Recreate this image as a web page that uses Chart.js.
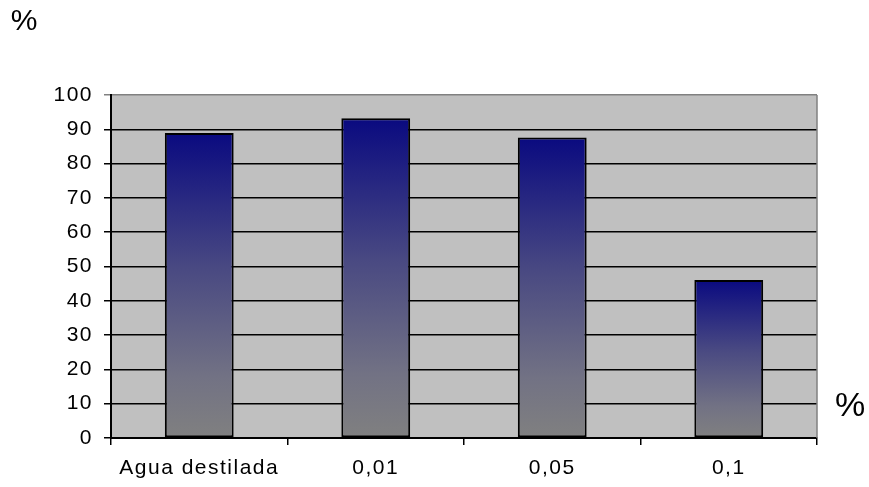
<!DOCTYPE html>
<html>
<head>
<meta charset="utf-8">
<script src="https://cdn.jsdelivr.net/npm/chart.js@4.4.0/dist/chart.umd.min.js"></script>
<style>
  html, body { margin: 0; padding: 0; background: #fff; }
  #wrap { width: 869px; height: 487px; }
</style>
</head>
<body>
<div id="wrap"><canvas id="barChart" width="869" height="487"></canvas></div>
<script>
const categories = ['Agua destilada', '0,01', '0,05', '0,1'];
const values = [88.9, 93.2, 87.6, 46.1];
const yTicks = [0, 10, 20, 30, 40, 50, 60, 70, 80, 90, 100];

const font = 'Liberation Sans, Arial, sans-serif';

// grey plot background, right border and the two "%" labels
const decor = {
    id: 'decor',
    beforeDraw(chart) {
        const { ctx, chartArea: a } = chart;
        ctx.save();
        ctx.fillStyle = '#c0c0c0';
        ctx.fillRect(a.left, a.top, a.right - a.left, a.bottom - a.top);
        ctx.restore();
        // the original labels are slightly spread out
        ctx.letterSpacing = '1.5px';
    },
    afterDraw(chart) {
        const { ctx, chartArea: a } = chart;
        ctx.letterSpacing = '0px';
        ctx.save();
        ctx.strokeStyle = '#808080';
        ctx.lineWidth = 1.5;
        ctx.beginPath();
        ctx.moveTo(a.right, a.top);
        ctx.lineTo(a.right, a.bottom);
        ctx.stroke();
        ctx.fillStyle = '#000';
        ctx.textAlign = 'center';
        ctx.textBaseline = 'middle';
        ctx.font = '30px ' + font;
        ctx.fillText('%', 24, 22);
        ctx.font = '34px ' + font;
        ctx.fillText('%', 850, 407);
        ctx.restore();
    }
};

function barGradient(context) {
    const chart = context.chart;
    if (!chart.chartArea) return '#404080';
    const y = chart.scales.y;
    const v = context.raw;
    const top = y.getPixelForValue(v);
    const bottom = y.getPixelForValue(0);
    const g = chart.ctx.createLinearGradient(0, top, 0, bottom);
    g.addColorStop(0, '#0a0a80');
    g.addColorStop(0.45, '#4a4a82');
    g.addColorStop(0.8, '#727284');
    g.addColorStop(1, '#808080');
    return g;
}

const ctx = document.getElementById('barChart').getContext('2d');
const barChart = new Chart(ctx, {
    type: 'bar',
    data: {
        labels: categories,
        datasets: [{
            data: values,
            backgroundColor: barGradient,
            borderColor: '#000',
            borderWidth: 2,
            borderSkipped: false,
            categoryPercentage: 1,
            barPercentage: 0.39
        }]
    },
    options: {
        responsive: false,
        animation: false,
        layout: { padding: { left: 0, right: 52, top: 95, bottom: 0 } },
        plugins: { legend: { display: false }, tooltip: { enabled: false } },
        scales: {
            x: {
                offset: true,
                grid: {
                    offset: true,
                    drawOnChartArea: false,
                    color: '#000',
                    lineWidth: 1.5,
                    tickLength: 7
                },
                border: { color: '#000', width: 2 },
                ticks: {
                    color: '#000',
                    font: { family: font, size: 21 },
                    padding: 11,
                    maxRotation: 0
                },
                afterFit(scale) { scale.height = 49; }
            },
            y: {
                min: 0,
                max: 100,
                afterBuildTicks(scale) { scale.ticks = yTicks.map(v => ({ value: v })); },
                grid: {
                    color: c => (c.tick && c.tick.value === 100 ? '#808080' : '#000'),
                    lineWidth: 1.5,
                    tickLength: 7
                },
                border: { color: '#000', width: 2 },
                ticks: {
                    color: '#000',
                    font: { family: font, size: 21 },
                    padding: 11
                },
                afterFit(scale) { scale.width = 111; }
            }
        }
    },
    plugins: [decor]
});
</script>
</body>
</html>
